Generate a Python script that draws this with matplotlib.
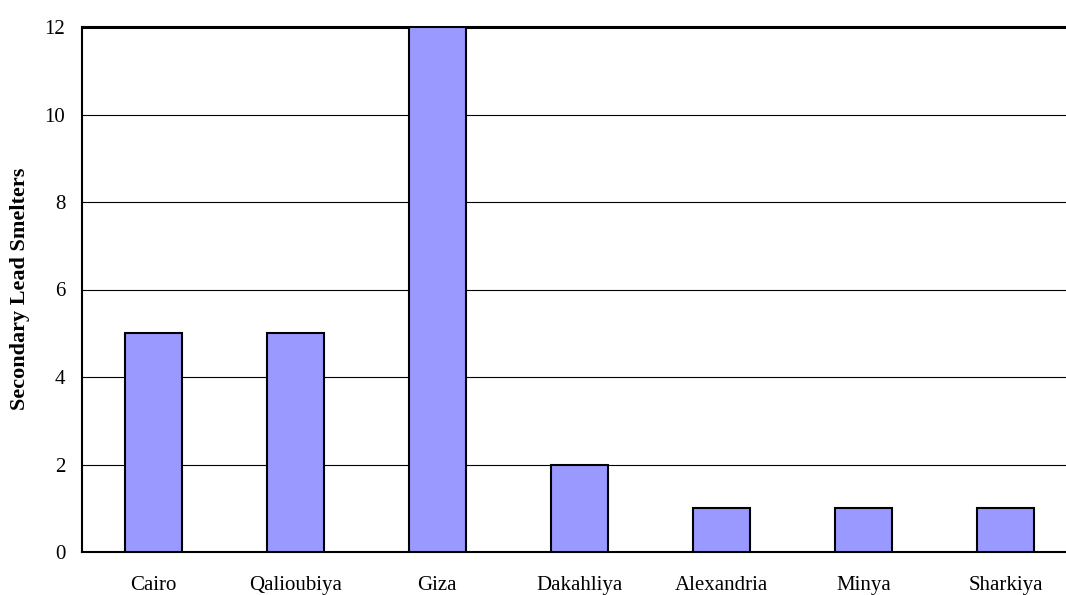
import matplotlib
matplotlib.use("Agg")
import matplotlib.pyplot as plt

governorates = ["Cairo", "Qalioubiya", "Giza", "Dakahliya", "Alexandria", "Minya", "Sharkiya"]
smelters = [5, 5, 12, 2, 1, 1, 1]
y_ticks = [0, 2, 4, 6, 8, 10, 12]

plt.rcParams["font.family"] = ["Liberation Serif", "DejaVu Serif"]

W, H = 1066, 595
fig = plt.figure(figsize=(W / 100, H / 100), dpi=100)
# the plot area runs a little past the right edge of the canvas
left_px, right_px, top_px, bottom_px = 82, 1077, 27, 552
ax = fig.add_axes([left_px / W, 1 - bottom_px / H,
                   (right_px - left_px) / W, (bottom_px - top_px) / H])

x = range(len(governorates))
ax.bar(x, smelters, width=0.4, color="#9999FF", edgecolor="black", linewidth=1.5, zorder=3)

ax.set_xlim(-0.5, len(governorates) - 0.5)
ax.set_ylim(0, 12)
ax.set_yticks(y_ticks)
ax.set_xticks(list(x))
ax.set_xticklabels(governorates)
ax.tick_params(axis="both", length=0, labelsize=15)
ax.tick_params(axis="x", pad=17)
ax.tick_params(axis="y", pad=12)

ax.yaxis.grid(True, color="black", linewidth=0.8, zorder=0)
ax.set_axisbelow(True)

for side in ["left", "bottom"]:
    ax.spines[side].set_linewidth(1.5)
ax.spines["top"].set_linewidth(2.2)
ax.spines["right"].set_visible(False)

fig.text(20 / W, 1 - 289 / H, "Secondary Lead Smelters", rotation=90,
         ha="center", va="center", fontsize=16, fontweight="bold")

fig.savefig("out.png", dpi=100)
